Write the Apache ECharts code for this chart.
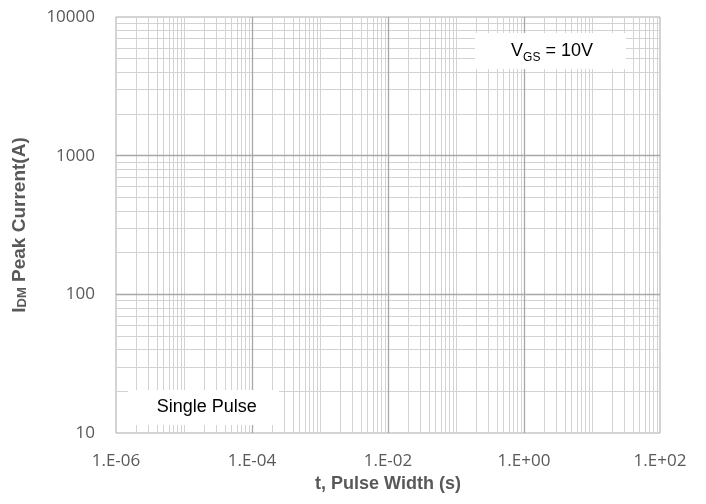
<!DOCTYPE html>
<html><head><meta charset="utf-8">
<script src="https://cdn.jsdelivr.net/npm/echarts@6/dist/echarts.min.js"></script>
<style>html,body{margin:0;padding:0;background:#fff}#c{width:706px;height:504px}</style>
</head><body><div id="c"></div>
<script>
// Axis ranges and tick labels
const xRange = [1e-6, 100];
const yRange = [10, 10000];
const xLabelValues = [1e-6, 1e-4, 1e-2, 1, 100];
const xTickLabels = ['1.E-06', '1.E-04', '1.E-02', '1.E+00', '1.E+02'];
const yLabelValues = [10, 100, 1000, 10000];
const yTickLabels = ['10', '100', '1000', '10000'];
const xDecades = [1e-6, 1e-5, 1e-4, 1e-3, 1e-2, 1e-1, 1, 10];
const yDecades = [10, 100, 1000];
const minorMantissas = [2, 3, 4, 5, 6, 7, 8, 9];
const xTitle = 't, Pulse Width (s)';
const vgsText = '{n|V}{s|GS}{n| = 10V}';
const pulseText = 'Single Pulse';

const MAJOR = '#a8a8a8', MINOR = '#d3d3d3', TXT = '#595959';
const ex = v => Math.round(Math.log10(v));

const minorX = [];
xDecades.forEach(d => minorMantissas.forEach(m => minorX.push(m * d)));
const minorY = [];
yDecades.forEach(d => minorMantissas.forEach(m => minorY.push(m * d)));
// odd decades on x are drawn light
const oddX = xDecades.filter(d => Math.abs(ex(d)) % 2 === 1);
const majorX = xLabelValues.slice(1, -1);
const majorY = yLabelValues.slice(1, -1);

const lines = [];
minorX.concat(oddX).forEach(v => lines.push({xAxis: v, lineStyle: {color: MINOR, width: 1}}));
minorY.forEach(v => lines.push({yAxis: v, lineStyle: {color: MINOR, width: 1}}));
majorX.forEach(v => lines.push({xAxis: v, lineStyle: {color: MAJOR, width: 1.3}}));
majorY.forEach(v => lines.push({yAxis: v, lineStyle: {color: MAJOR, width: 1.3}}));

const chart = echarts.init(document.getElementById('c'), null, {renderer: 'canvas'});
chart.setOption({
  animation: false,
  backgroundColor: '#fff',
  grid: {left: 116, right: 46, top: 17, bottom: 71, show: true, borderColor: MAJOR, borderWidth: 1, backgroundColor: 'transparent'},
  xAxis: {
    type: 'log', logBase: 10, min: xRange[0], max: xRange[1],
    axisLine: {show: false}, axisTick: {show: false}, splitLine: {show: false},
    axisLabel: {
      margin: 20, color: TXT, fontFamily: 'Open Sans', fontSize: 17,
      formatter: v => { const i = xLabelValues.findIndex(m => ex(m) === ex(v)); return i >= 0 ? xTickLabels[i] : ''; }
    },
    name: xTitle, nameLocation: 'middle', nameGap: 37,
    nameTextStyle: {color: TXT, fontFamily: 'Liberation Sans', fontWeight: 'bold', fontSize: 18}
  },
  yAxis: {
    type: 'log', logBase: 10, min: yRange[0], max: yRange[1],
    axisLine: {show: false}, axisTick: {show: false}, splitLine: {show: false},
    axisLabel: {
      margin: 21, color: TXT, fontFamily: 'Open Sans', fontSize: 17,
      formatter: v => { const i = yLabelValues.findIndex(m => ex(m) === ex(v)); return i >= 0 ? yTickLabels[i] : ''; }
    },
    name: '{b|I}{d|DM}{b| Peak Current(A)}', nameLocation: 'middle', nameRotate: 90, nameGap: 87,
    nameTextStyle: {
      color: TXT, fontFamily: 'Liberation Sans', fontWeight: 'bold', fontSize: 19,
      rich: {
        b: {color: TXT, fontFamily: 'Liberation Sans', fontWeight: 'bold', fontSize: 19, lineHeight: 19, verticalAlign: 'bottom'},
        d: {color: TXT, fontFamily: 'Liberation Sans', fontWeight: 'bold', fontSize: 13, lineHeight: 15, verticalAlign: 'bottom'}
      }
    }
  },
  series: [{
    type: 'line', data: [], silent: true,
    markLine: {
      silent: true, symbol: ['none', 'none'], label: {show: false}, precision: 12,
      lineStyle: {type: 'solid', width: 1}, animation: false,
      data: lines
    }
  }],
  graphic: [
    {type: 'rect', left: 475, top: 33, shape: {width: 151, height: 36}, style: {fill: '#fff'}, z: 10},
    {type: 'text', x: 552, y: 51, z: 11, style: {
      text: vgsText, align: 'center', verticalAlign: 'middle', fill: '#000',
      rich: {
        n: {fontFamily: 'Liberation Sans', fontSize: 18, lineHeight: 18, fill: '#000', color: '#000'},
        s: {fontFamily: 'Liberation Sans', fontSize: 12, lineHeight: 12, padding: [14, 0, 0, 0], fill: '#000', color: '#000'}
      }
    }},
    {type: 'rect', left: 128, top: 390, shape: {width: 151, height: 35}, style: {fill: '#fff'}, z: 10},
    {type: 'text', x: 206.7, y: 407.5, z: 11, style: {
      text: pulseText, align: 'center', verticalAlign: 'middle', fill: '#000',
      font: '18px "Liberation Sans"'
    }}
  ]
});
</script></body></html>
